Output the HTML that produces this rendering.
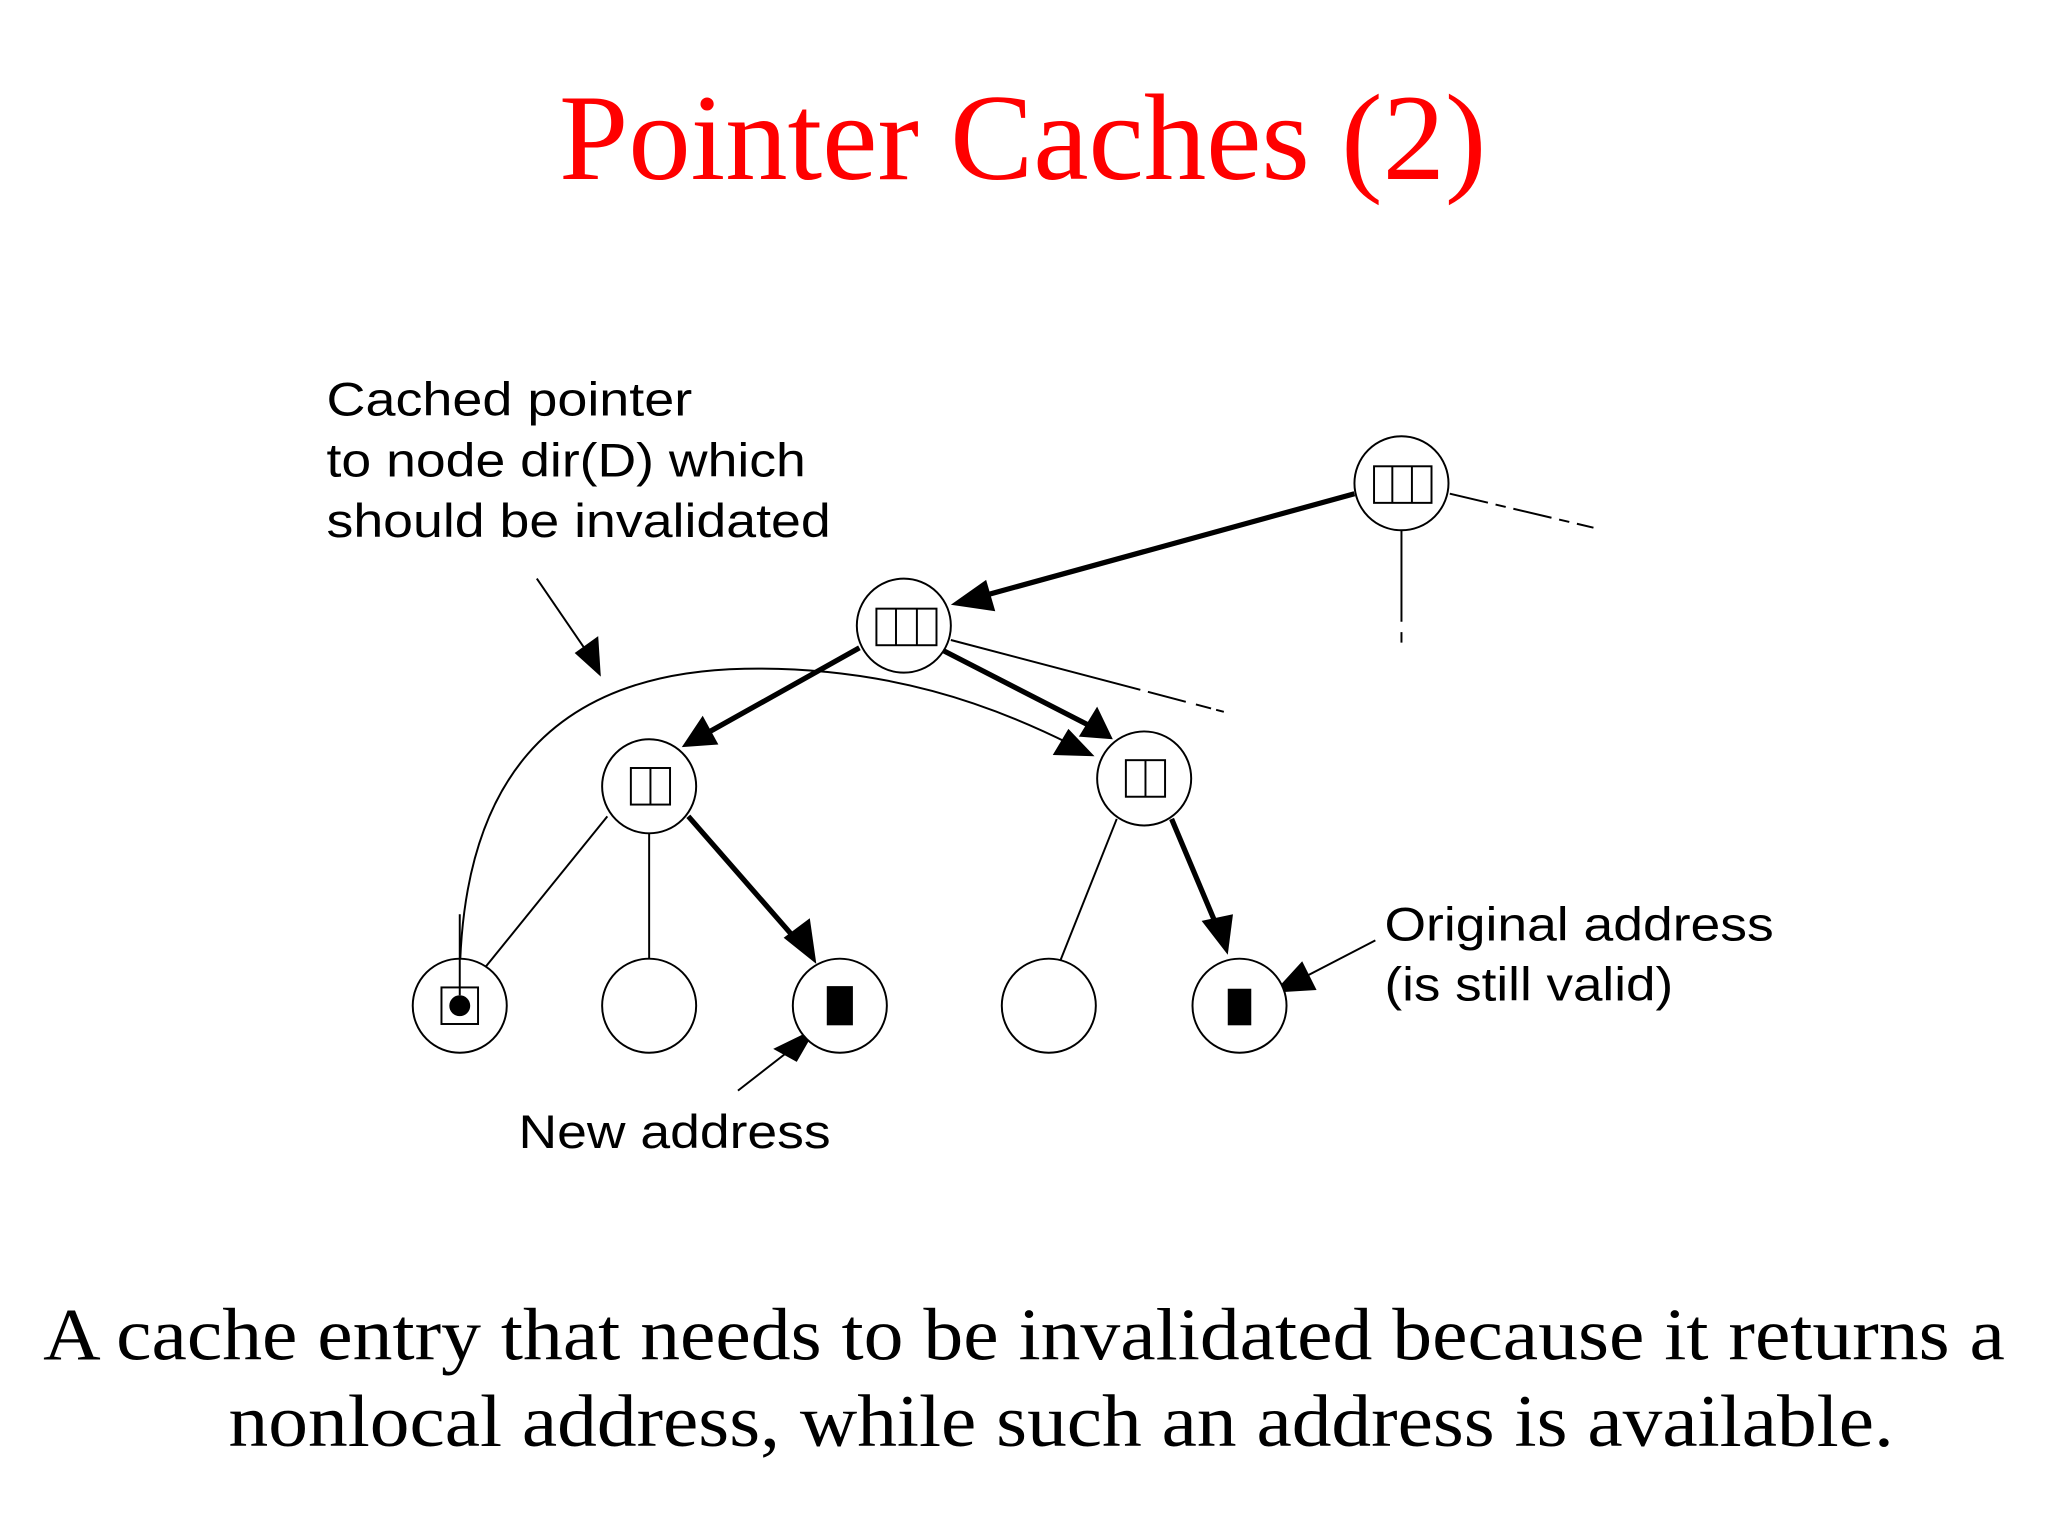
<!DOCTYPE html>
<html><head><meta charset="utf-8"><style>
html,body{margin:0;padding:0;background:#fff;}
svg{display:block;}
</style></head><body>
<svg width="2048" height="1536" viewBox="0 0 1568 1176" xmlns="http://www.w3.org/2000/svg">
<rect width="1568" height="1176" fill="#fff"/>
<text x="428" y="137" textLength="710" lengthAdjust="spacingAndGlyphs" font-family="Liberation Serif, serif" font-size="94" fill="#f00">Pointer Caches (2)</text>

<g font-family="Liberation Sans, sans-serif" font-size="36" fill="#000" lengthAdjust="spacingAndGlyphs">
<text x="250" y="318" textLength="280" lengthAdjust="spacingAndGlyphs">Cached pointer</text>
<text x="250" y="365" textLength="367" lengthAdjust="spacingAndGlyphs">to node dir(D) which</text>
<text x="250" y="411" textLength="386" lengthAdjust="spacingAndGlyphs">should be invalidated</text>
<text x="1060" y="720" textLength="298" lengthAdjust="spacingAndGlyphs">Original address</text>
<text x="1060" y="766" textLength="221" lengthAdjust="spacingAndGlyphs">(is still valid)</text>
<text x="397" y="879" textLength="239" lengthAdjust="spacingAndGlyphs">New address</text>
</g>

<g fill="none" stroke="#000">
<line x1="1110" y1="378" x2="1220" y2="404" stroke-width="1.5" stroke-dasharray="30,6,8,6"/>
<line x1="1073" y1="406" x2="1073" y2="495" stroke-width="1.5" stroke-dasharray="70,8,8,4"/>
<line x1="728" y1="490" x2="937" y2="545" stroke-width="1.5" stroke-dasharray="150,6,30,8,12,4"/>
<line x1="465" y1="625" x2="372" y2="740" stroke-width="1.5"/>
<line x1="497" y1="638" x2="497" y2="734" stroke-width="1.5"/>
<line x1="855" y1="627" x2="812" y2="735" stroke-width="1.5"/>
<path d="M352,762 C 350,600 420,515 570,512 C 680,510 760,540 820,570" stroke-width="1.5"/>
<line x1="411" y1="443" x2="450" y2="500" stroke-width="1.5"/>
<line x1="565" y1="835" x2="610" y2="800" stroke-width="1.5"/>
<line x1="1053" y1="720" x2="995" y2="750" stroke-width="1.5"/>
<line x1="1037" y1="378" x2="750" y2="457" stroke-width="4"/>
<line x1="658" y1="496" x2="540" y2="562" stroke-width="4"/>
<line x1="722" y1="498" x2="835" y2="556" stroke-width="4"/>
<line x1="527" y1="625" x2="610" y2="720" stroke-width="4"/>
<line x1="897" y1="627" x2="932" y2="710" stroke-width="4"/>
</g>
<g fill="#000">
<polygon points="728,463 755,444 762,468"/>
<polygon points="522,572 538,548 550,570"/>
<polygon points="852,566 826,564 840,541"/>
<polygon points="625,738 600,718 620,703"/>
<polygon points="940,731 920,705 944,700"/>
<polygon points="838,579 806,578 818,558"/>
<polygon points="460,518 440,500 458,487"/>
<polygon points="592,803 625,787 610,813"/>
<polygon points="975,760 997,736 1008,758"/>
</g>

<g fill="#fff" stroke="#000" stroke-width="1.5">
<circle cx="1073" cy="370" r="36"/>
<circle cx="692" cy="479" r="36"/>
<circle cx="497" cy="602" r="36"/>
<circle cx="876" cy="596" r="36"/>
<circle cx="352" cy="770" r="36"/>
<circle cx="497" cy="770" r="36"/>
<circle cx="643" cy="770" r="36"/>
<circle cx="803" cy="770" r="36"/>
<circle cx="949" cy="770" r="36"/>
<rect x="1052" y="357" width="44" height="28"/>
<line x1="1066" y1="357" x2="1066" y2="385"/><line x1="1081" y1="357" x2="1081" y2="385"/>
<rect x="671" y="466" width="46" height="28"/>
<line x1="686" y1="466" x2="686" y2="494"/><line x1="702" y1="466" x2="702" y2="494"/>
<rect x="483" y="588" width="30" height="28"/>
<line x1="498" y1="588" x2="498" y2="616"/>
<rect x="862" y="582" width="30" height="28"/>
<line x1="877" y1="582" x2="877" y2="610"/>
<rect x="338" y="756" width="28" height="28"/>
</g>
<line x1="352" y1="700" x2="352" y2="762" stroke="#000" stroke-width="1.5"/>
<circle cx="352" cy="770" r="8" fill="#000"/>
<rect x="633" y="755" width="20" height="30" fill="#000"/>
<rect x="940" y="757" width="18" height="28" fill="#000"/>

<g font-family="Liberation Serif, serif" font-size="57" fill="#000">
<text x="33" y="1041" textLength="1502" lengthAdjust="spacingAndGlyphs">A cache entry that needs to be invalidated because it returns a</text>
<text x="175" y="1107" textLength="1275" lengthAdjust="spacingAndGlyphs">nonlocal address, while such an address is available.</text>
</g>
</svg>
</body></html>
